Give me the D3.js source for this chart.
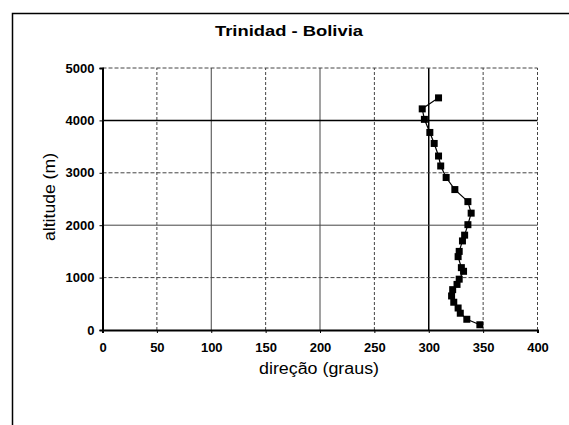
<!DOCTYPE html>
<html>
<head>
<meta charset="utf-8">
<script src="https://cdn.jsdelivr.net/npm/d3@7"></script>
<style>
  body { margin: 0; background: #fff; }
  svg { display: block; font-family: "Liberation Sans", Arial, sans-serif; }
</style>
</head>
<body>
<svg id="chart" width="569" height="425"></svg>
<script>
// wind direction profile
var altitude = [4430, 4220, 4020, 3770, 3560, 3320, 3130, 2910, 2680, 2450, 2230, 2010, 1810, 1700,
                1500, 1400, 1190, 1120, 970, 870, 770, 650, 530, 420, 320, 205, 100];
var direction = [309, 294, 296, 301, 305, 309, 311, 316, 324, 336, 339, 336, 333, 331,
                 328, 327, 330, 332, 328, 326, 322, 321, 323, 327, 329, 335, 347];
var xTicks = [0, 50, 100, 150, 200, 250, 300, 350, 400];
var yTicks = [0, 1000, 2000, 3000, 4000, 5000];

var svg = d3.select('#chart');

// outer frame (only top and left edges show in the scan)
svg.append('path')
    .attr('d', 'M12.5,425 L12.5,13.5 L569,13.5')
    .attr('fill', 'none')
    .attr('stroke', '#000')
    .attr('stroke-width', 1.5);

var x = d3.scaleLinear().domain([0, 400]).range([102.5, 537.5]);
var y = d3.scaleLinear().domain([0, 5000]).range([330, 68]);

// gridlines
svg.append('g').selectAll('line')
    .data(xTicks.slice(1))
    .enter().append('line')
    .attr('x1', function(d) { return x(d); })
    .attr('x2', function(d) { return x(d); })
    .attr('y1', y(0))
    .attr('y2', y(5000))
    .attr('stroke', function(d) { return d === 300 ? '#000' : '#444'; })
    .attr('stroke-width', function(d) { return d === 300 ? 1.5 : 1; })
    .attr('stroke-dasharray', function(d) { return d % 100 === 0 && d !== 400 ? null : '3,2'; });

svg.append('g').selectAll('line')
    .data(yTicks.slice(1))
    .enter().append('line')
    .attr('x1', x(0))
    .attr('x2', x(400))
    .attr('y1', function(d) { return y(d); })
    .attr('y2', function(d) { return y(d); })
    .attr('stroke', function(d) { return d === 4000 ? '#000' : '#444'; })
    .attr('stroke-width', function(d) { return d === 4000 ? 1.5 : 1; })
    .attr('stroke-dasharray', function(d) { return d % 2000 === 0 ? null : '4,2'; });

// axes
var xAxis = d3.axisBottom(x).tickValues(xTicks).tickSize(3).tickPadding(10).tickFormat(d3.format('d'));
var yAxis = d3.axisLeft(y).tickValues(yTicks).tickSize(3).tickPadding(5).tickFormat(d3.format('d'));

var gx = svg.append('g')
    .attr('transform', 'translate(0,' + y(0) + ')')
    .call(xAxis);
var gy = svg.append('g')
    .attr('transform', 'translate(' + x(0) + ',0)')
    .call(yAxis);

[gx, gy].forEach(function(g) {
    g.select('.domain').attr('stroke', '#000').attr('stroke-width', 2);
    g.selectAll('.tick line').attr('stroke', '#000');
    g.selectAll('.tick text')
        .attr('fill', '#000')
        .style('font-size', '13px')
        .style('font-weight', 'bold')
        .style('font-family', '"Liberation Sans", Arial, sans-serif');
});

// line + square markers
var line = d3.line()
    .x(function(d, i) { return x(direction[i]); })
    .y(function(d, i) { return y(altitude[i]); });

svg.append('path')
    .datum(altitude)
    .attr('d', line)
    .attr('fill', 'none')
    .attr('stroke', '#000')
    .attr('stroke-width', 1.2);

svg.append('g').selectAll('rect')
    .data(altitude)
    .enter().append('rect')
    .attr('x', function(d, i) { return x(direction[i]) - 3.5; })
    .attr('y', function(d) { return y(d) - 3.5; })
    .attr('width', 7)
    .attr('height', 7)
    .attr('fill', '#000');

// titles
svg.append('text')
    .attr('x', 289)
    .attr('y', 36)
    .attr('text-anchor', 'middle')
    .attr('textLength', 148)
    .attr('lengthAdjust', 'spacingAndGlyphs')
    .style('font-size', '15px')
    .style('font-weight', 'bold')
    .text('Trinidad - Bolivia');

svg.append('text')
    .attr('x', 319)
    .attr('y', 374)
    .attr('text-anchor', 'middle')
    .attr('textLength', 120)
    .attr('lengthAdjust', 'spacingAndGlyphs')
    .style('font-size', '16px')
    .text('direção (graus)');

svg.append('text')
    .attr('transform', 'translate(55,197) rotate(-90)')
    .attr('text-anchor', 'middle')
    .attr('textLength', 88)
    .attr('lengthAdjust', 'spacingAndGlyphs')
    .style('font-size', '17px')
    .text('altitude (m)');
</script>
</body>
</html>
